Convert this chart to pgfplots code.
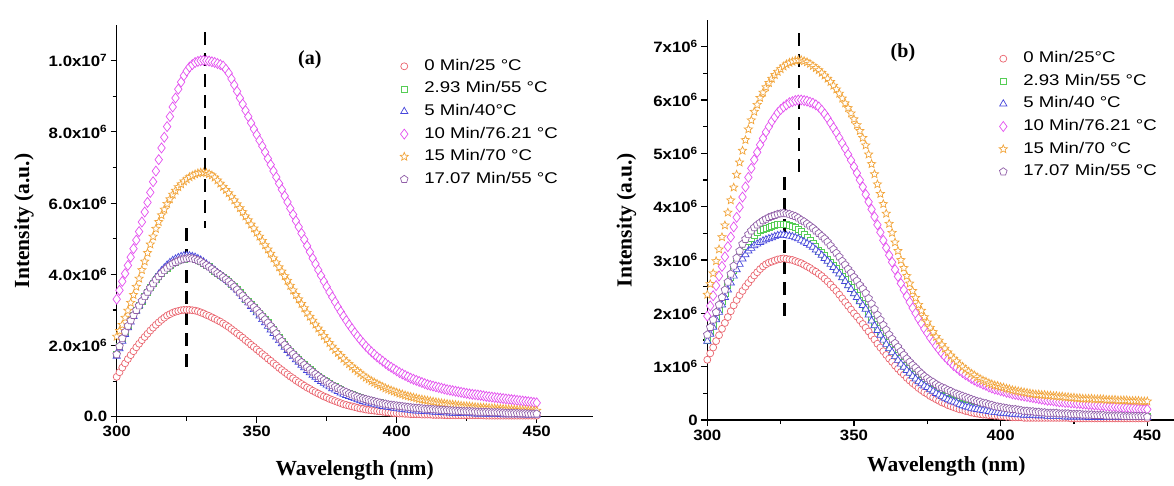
\documentclass[border=0pt]{standalone}
\usepackage{fontspec}
\setmainfont{Liberation Serif}
\newfontfamily\sanstick[FakeStretch=1.12]{Liberation Sans}
\newfontfamily\sanslegend[FakeStretch=1.2]{Liberation Sans}
\usepackage{pgfplots}
\usepackage{pgfplotstable}
\pgfplotsset{compat=1.18}

\definecolor{cRed}{RGB}{234,100,110}
\definecolor{cGreen}{RGB}{85,205,85}
\definecolor{cBlue}{RGB}{70,70,220}
\definecolor{cMag}{RGB}{228,80,240}
\definecolor{cOra}{RGB}{242,165,60}
\definecolor{cPur}{RGB}{145,95,168}

% five-pointed star, outlined and filled
\pgfdeclareplotmark{ostar}{%
  \pgfpathmoveto{\pgfpointpolar{90}{\pgfplotmarksize}}%
  \pgfpathlineto{\pgfpointpolar{126}{0.45\pgfplotmarksize}}%
  \pgfpathlineto{\pgfpointpolar{162}{\pgfplotmarksize}}%
  \pgfpathlineto{\pgfpointpolar{198}{0.45\pgfplotmarksize}}%
  \pgfpathlineto{\pgfpointpolar{234}{\pgfplotmarksize}}%
  \pgfpathlineto{\pgfpointpolar{270}{0.45\pgfplotmarksize}}%
  \pgfpathlineto{\pgfpointpolar{306}{\pgfplotmarksize}}%
  \pgfpathlineto{\pgfpointpolar{342}{0.45\pgfplotmarksize}}%
  \pgfpathlineto{\pgfpointpolar{18}{\pgfplotmarksize}}%
  \pgfpathlineto{\pgfpointpolar{54}{0.45\pgfplotmarksize}}%
  \pgfpathclose\pgfusepathqfillstroke}

% Panel (a): wavelength (nm), intensities in units of 1e6
% r = 0 min, b = 5 min, m = 10 min, o = 15 min, p = 17.07 min (2.93 min coincides with p)
\pgfplotstableread{
x r b m o p
300 1.12 1.70 3.30 2.25 1.75
301 1.25 1.91 3.55 2.41 1.98
302 1.38 2.12 3.80 2.58 2.20
303 1.50 2.31 4.02 2.78 2.38
304 1.62 2.50 4.25 2.98 2.55
305 1.73 2.66 4.48 3.20 2.70
306 1.84 2.82 4.72 3.42 2.85
307 1.95 2.97 4.96 3.65 2.99
308 2.05 3.12 5.20 3.88 3.12
309 2.15 3.26 5.47 4.12 3.25
310 2.24 3.40 5.75 4.36 3.38
311 2.33 3.53 6.02 4.60 3.50
312 2.42 3.66 6.30 4.84 3.62
313 2.50 3.78 6.60 5.06 3.74
314 2.58 3.90 6.90 5.28 3.85
315 2.65 4.00 7.22 5.47 3.94
316 2.72 4.10 7.55 5.66 4.03
317 2.78 4.18 7.85 5.82 4.11
318 2.84 4.26 8.15 5.98 4.18
319 2.88 4.33 8.43 6.11 4.24
320 2.92 4.39 8.70 6.24 4.30
321 2.95 4.43 8.95 6.35 4.34
322 2.97 4.47 9.20 6.45 4.38
323 2.99 4.50 9.40 6.53 4.41
324 3.00 4.52 9.58 6.61 4.43
325 3.00 4.53 9.71 6.67 4.44
326 3.00 4.52 9.82 6.73 4.45
327 2.99 4.50 9.89 6.77 4.44
328 2.98 4.48 9.95 6.81 4.42
329 2.96 4.44 9.98 6.84 4.39
330 2.93 4.40 10.00 6.86 4.36
331 2.90 4.35 10.01 6.86 4.31
332 2.86 4.29 10.00 6.85 4.26
333 2.83 4.23 9.99 6.82 4.21
334 2.79 4.17 9.97 6.78 4.15
335 2.75 4.11 9.95 6.72 4.09
336 2.71 4.04 9.92 6.64 4.03
337 2.67 3.98 9.89 6.55 3.98
338 2.62 3.92 9.85 6.46 3.92
339 2.57 3.86 9.76 6.37 3.86
340 2.52 3.79 9.65 6.28 3.80
341 2.46 3.72 9.49 6.18 3.73
342 2.40 3.64 9.32 6.08 3.65
343 2.34 3.56 9.14 5.97 3.57
344 2.28 3.47 8.95 5.86 3.48
345 2.22 3.38 8.78 5.75 3.40
346 2.15 3.29 8.60 5.63 3.31
347 2.09 3.20 8.43 5.52 3.23
348 2.02 3.10 8.25 5.40 3.15
349 1.96 3.01 8.08 5.29 3.08
350 1.89 2.92 7.92 5.17 3.00
351 1.83 2.83 7.76 5.06 2.91
352 1.76 2.73 7.60 4.94 2.82
353 1.70 2.64 7.43 4.82 2.73
354 1.63 2.54 7.25 4.70 2.64
355 1.57 2.44 7.08 4.58 2.55
356 1.50 2.34 6.90 4.45 2.45
357 1.44 2.24 6.73 4.33 2.34
358 1.37 2.14 6.55 4.20 2.22
359 1.31 2.05 6.38 4.08 2.12
360 1.25 1.95 6.20 3.95 2.02
361 1.19 1.86 6.03 3.82 1.93
362 1.13 1.77 5.85 3.68 1.84
363 1.08 1.69 5.68 3.55 1.76
364 1.02 1.60 5.50 3.42 1.68
365 0.97 1.53 5.33 3.30 1.60
366 0.92 1.45 5.15 3.17 1.53
367 0.87 1.38 4.98 3.05 1.46
368 0.82 1.30 4.80 2.92 1.39
369 0.78 1.24 4.63 2.81 1.32
370 0.73 1.17 4.45 2.70 1.26
371 0.69 1.11 4.29 2.59 1.20
372 0.65 1.05 4.12 2.48 1.14
373 0.61 0.99 3.96 2.38 1.08
374 0.57 0.94 3.80 2.27 1.03
375 0.54 0.89 3.65 2.17 0.98
376 0.50 0.84 3.50 2.07 0.93
377 0.47 0.79 3.36 1.97 0.88
378 0.44 0.75 3.22 1.88 0.84
379 0.41 0.71 3.08 1.79 0.80
380 0.38 0.67 2.95 1.71 0.76
381 0.35 0.63 2.82 1.63 0.72
382 0.33 0.60 2.70 1.55 0.69
383 0.31 0.57 2.58 1.48 0.65
384 0.29 0.54 2.47 1.41 0.62
385 0.27 0.51 2.36 1.34 0.59
386 0.25 0.48 2.26 1.28 0.56
387 0.23 0.45 2.16 1.22 0.53
388 0.22 0.43 2.07 1.16 0.51
389 0.20 0.41 1.98 1.10 0.49
390 0.19 0.39 1.90 1.05 0.47
391 0.18 0.37 1.82 1.00 0.45
392 0.17 0.35 1.75 0.96 0.43
393 0.16 0.33 1.68 0.92 0.41
394 0.15 0.31 1.62 0.88 0.39
395 0.14 0.29 1.56 0.84 0.37
396 0.13 0.28 1.50 0.80 0.36
397 0.12 0.27 1.44 0.77 0.34
398 0.11 0.26 1.39 0.74 0.33
399 0.10 0.24 1.34 0.71 0.32
400 0.10 0.23 1.29 0.68 0.31
401 0.09 0.22 1.24 0.65 0.30
402 0.09 0.21 1.20 0.63 0.29
403 0.08 0.20 1.16 0.60 0.28
404 0.08 0.19 1.12 0.58 0.27
405 0.07 0.18 1.08 0.56 0.26
406 0.07 0.17 1.05 0.54 0.25
407 0.07 0.165 1.02 0.52 0.245
408 0.07 0.16 0.99 0.50 0.24
409 0.06 0.155 0.96 0.485 0.23
410 0.06 0.15 0.93 0.47 0.22
411 0.06 0.145 0.90 0.455 0.215
412 0.06 0.14 0.88 0.44 0.21
413 0.05 0.135 0.86 0.425 0.205
414 0.05 0.13 0.84 0.41 0.20
415 0.05 0.125 0.82 0.395 0.195
416 0.05 0.12 0.80 0.38 0.19
417 0.045 0.115 0.78 0.37 0.185
418 0.04 0.11 0.76 0.36 0.18
419 0.04 0.105 0.745 0.35 0.175
420 0.04 0.10 0.73 0.34 0.17
421 0.04 0.10 0.715 0.33 0.165
422 0.04 0.10 0.70 0.32 0.16
423 0.04 0.095 0.685 0.31 0.155
424 0.04 0.09 0.67 0.30 0.15
425 0.04 0.09 0.655 0.295 0.15
426 0.04 0.09 0.64 0.29 0.15
427 0.04 0.085 0.63 0.28 0.145
428 0.04 0.08 0.62 0.27 0.14
429 0.04 0.08 0.61 0.265 0.135
430 0.04 0.08 0.60 0.26 0.13
431 0.035 0.075 0.585 0.255 0.13
432 0.03 0.07 0.57 0.25 0.13
433 0.03 0.07 0.56 0.245 0.125
434 0.03 0.07 0.55 0.24 0.12
435 0.03 0.07 0.54 0.235 0.12
436 0.03 0.07 0.53 0.23 0.12
437 0.03 0.065 0.52 0.225 0.115
438 0.03 0.06 0.51 0.22 0.11
439 0.03 0.06 0.50 0.215 0.105
440 0.03 0.06 0.49 0.21 0.10
441 0.03 0.06 0.48 0.205 0.10
442 0.03 0.06 0.47 0.20 0.10
443 0.03 0.06 0.46 0.195 0.095
444 0.03 0.06 0.45 0.19 0.09
445 0.03 0.055 0.44 0.185 0.09
446 0.03 0.05 0.43 0.18 0.09
447 0.03 0.05 0.42 0.175 0.085
448 0.03 0.05 0.41 0.17 0.08
449 0.03 0.05 0.40 0.17 0.08
450 0.03 0.05 0.39 0.17 0.08
}\dataA

% Panel (b)
\pgfplotstableread{
x r g b m o p
300 1.13 1.50 1.48 1.95 2.35 1.60
301 1.25 1.64 1.61 2.14 2.55 1.74
302 1.36 1.78 1.74 2.33 2.75 1.88
303 1.48 1.93 1.88 2.52 2.98 2.02
304 1.59 2.08 2.02 2.70 3.20 2.16
305 1.71 2.23 2.16 2.88 3.43 2.30
306 1.82 2.38 2.30 3.06 3.65 2.44
307 1.93 2.53 2.44 3.25 3.89 2.59
308 2.04 2.67 2.57 3.43 4.12 2.74
309 2.15 2.81 2.70 3.62 4.36 2.89
310 2.25 2.94 2.82 3.80 4.60 3.04
311 2.34 3.06 2.92 3.99 4.83 3.17
312 2.42 3.17 3.02 4.18 5.05 3.30
313 2.50 3.26 3.10 4.37 5.25 3.39
314 2.57 3.35 3.17 4.55 5.45 3.48
315 2.64 3.41 3.22 4.72 5.62 3.55
316 2.71 3.47 3.27 4.88 5.78 3.61
317 2.77 3.51 3.30 5.02 5.91 3.66
318 2.83 3.55 3.33 5.16 6.04 3.70
319 2.88 3.58 3.36 5.28 6.14 3.74
320 2.92 3.60 3.38 5.40 6.24 3.77
321 2.95 3.62 3.40 5.50 6.32 3.80
322 2.97 3.63 3.42 5.60 6.40 3.82
323 2.99 3.65 3.44 5.68 6.47 3.84
324 3.01 3.66 3.46 5.76 6.53 3.86
325 3.02 3.67 3.47 5.82 6.58 3.87
326 3.03 3.67 3.47 5.87 6.63 3.88
327 3.02 3.66 3.46 5.91 6.67 3.87
328 3.01 3.65 3.45 5.95 6.70 3.86
329 3.00 3.63 3.44 5.97 6.72 3.84
330 2.98 3.61 3.42 5.99 6.74 3.82
331 2.96 3.57 3.40 6.00 6.75 3.79
332 2.94 3.53 3.37 6.00 6.75 3.75
333 2.91 3.48 3.34 5.99 6.73 3.72
334 2.88 3.42 3.31 5.98 6.71 3.68
335 2.85 3.37 3.28 5.96 6.68 3.64
336 2.81 3.31 3.24 5.94 6.64 3.60
337 2.78 3.25 3.19 5.91 6.60 3.55
338 2.74 3.19 3.14 5.87 6.56 3.50
339 2.70 3.14 3.09 5.81 6.51 3.45
340 2.65 3.08 3.03 5.74 6.46 3.40
341 2.60 3.02 2.98 5.66 6.40 3.34
342 2.54 2.96 2.92 5.57 6.34 3.27
343 2.48 2.90 2.86 5.48 6.27 3.20
344 2.42 2.84 2.80 5.39 6.20 3.13
345 2.35 2.77 2.74 5.29 6.12 3.06
346 2.28 2.70 2.67 5.19 6.03 2.98
347 2.21 2.63 2.60 5.09 5.94 2.91
348 2.14 2.55 2.52 4.98 5.85 2.83
349 2.07 2.48 2.45 4.87 5.75 2.76
350 2.00 2.40 2.37 4.75 5.64 2.68
351 1.94 2.33 2.30 4.63 5.53 2.61
352 1.87 2.25 2.22 4.50 5.42 2.53
353 1.80 2.18 2.15 4.37 5.29 2.46
354 1.73 2.11 2.08 4.23 5.15 2.38
355 1.66 2.00 1.97 4.09 4.98 2.28
356 1.58 1.89 1.86 3.95 4.80 2.18
357 1.51 1.80 1.77 3.81 4.61 2.08
358 1.43 1.71 1.68 3.66 4.42 1.97
359 1.36 1.62 1.59 3.52 4.24 1.88
360 1.29 1.53 1.50 3.37 4.05 1.78
361 1.22 1.45 1.42 3.23 3.87 1.69
362 1.15 1.37 1.34 3.09 3.68 1.60
363 1.09 1.30 1.27 2.96 3.51 1.52
364 1.02 1.22 1.19 2.82 3.33 1.44
365 0.96 1.15 1.12 2.69 3.17 1.37
366 0.90 1.08 1.05 2.56 3.00 1.29
367 0.85 1.02 0.99 2.44 2.85 1.22
368 0.79 0.96 0.93 2.32 2.70 1.15
369 0.74 0.91 0.88 2.21 2.56 1.09
370 0.69 0.85 0.82 2.10 2.42 1.03
371 0.65 0.80 0.77 2.00 2.29 0.98
372 0.60 0.75 0.72 1.90 2.16 0.92
373 0.56 0.71 0.68 1.81 2.05 0.87
374 0.52 0.67 0.64 1.71 1.93 0.82
375 0.49 0.64 0.61 1.63 1.83 0.78
376 0.45 0.60 0.57 1.54 1.73 0.74
377 0.42 0.57 0.54 1.47 1.65 0.71
378 0.39 0.53 0.50 1.39 1.56 0.67
379 0.36 0.50 0.47 1.32 1.49 0.64
380 0.33 0.47 0.44 1.25 1.41 0.61
381 0.31 0.44 0.41 1.19 1.34 0.59
382 0.28 0.41 0.38 1.13 1.27 0.56
383 0.26 0.39 0.36 1.08 1.21 0.54
384 0.24 0.37 0.34 1.02 1.15 0.51
385 0.22 0.35 0.32 0.98 1.10 0.49
386 0.20 0.32 0.29 0.93 1.04 0.47
387 0.19 0.30 0.27 0.89 1.00 0.45
388 0.17 0.28 0.25 0.85 0.95 0.43
389 0.16 0.27 0.24 0.82 0.91 0.41
390 0.14 0.25 0.22 0.78 0.87 0.39
391 0.13 0.24 0.21 0.75 0.84 0.37
392 0.12 0.23 0.20 0.72 0.80 0.35
393 0.11 0.22 0.19 0.70 0.77 0.34
394 0.10 0.21 0.18 0.67 0.74 0.32
395 0.10 0.20 0.17 0.65 0.72 0.31
396 0.09 0.19 0.16 0.62 0.69 0.29
397 0.09 0.18 0.15 0.60 0.67 0.28
398 0.08 0.17 0.14 0.58 0.65 0.26
399 0.08 0.17 0.14 0.57 0.64 0.25
400 0.07 0.16 0.13 0.55 0.62 0.24
401 0.07 0.16 0.13 0.54 0.61 0.23
402 0.06 0.15 0.12 0.52 0.59 0.22
403 0.06 0.15 0.12 0.51 0.58 0.21
404 0.05 0.14 0.11 0.49 0.56 0.20
405 0.05 0.14 0.11 0.48 0.55 0.20
406 0.05 0.13 0.10 0.47 0.54 0.19
407 0.05 0.13 0.10 0.46 0.53 0.18
408 0.04 0.12 0.09 0.45 0.52 0.17
409 0.04 0.12 0.09 0.44 0.51 0.17
410 0.04 0.11 0.09 0.43 0.50 0.16
411 0.04 0.11 0.09 0.42 0.49 0.16
412 0.04 0.11 0.08 0.41 0.48 0.15
413 0.04 0.11 0.08 0.40 0.48 0.15
414 0.04 0.10 0.08 0.39 0.47 0.14
415 0.04 0.10 0.08 0.38 0.47 0.14
416 0.04 0.10 0.07 0.37 0.46 0.13
417 0.04 0.10 0.07 0.37 0.46 0.13
418 0.04 0.09 0.07 0.36 0.45 0.13
419 0.04 0.09 0.07 0.35 0.45 0.13
420 0.04 0.09 0.07 0.34 0.44 0.12
421 0.04 0.09 0.07 0.34 0.44 0.12
422 0.04 0.09 0.06 0.33 0.43 0.12
423 0.04 0.09 0.06 0.33 0.43 0.12
424 0.03 0.08 0.06 0.32 0.42 0.11
425 0.03 0.08 0.06 0.32 0.42 0.11
426 0.03 0.08 0.06 0.31 0.41 0.11
427 0.03 0.08 0.06 0.31 0.41 0.11
428 0.03 0.08 0.06 0.30 0.40 0.10
429 0.03 0.08 0.06 0.30 0.40 0.10
430 0.03 0.07 0.05 0.29 0.40 0.10
431 0.03 0.07 0.05 0.29 0.40 0.10
432 0.03 0.07 0.05 0.28 0.39 0.09
433 0.03 0.07 0.05 0.28 0.39 0.09
434 0.03 0.07 0.05 0.27 0.39 0.09
435 0.03 0.07 0.05 0.27 0.39 0.09
436 0.03 0.07 0.05 0.26 0.38 0.08
437 0.03 0.07 0.05 0.26 0.38 0.08
438 0.03 0.06 0.05 0.25 0.38 0.08
439 0.03 0.06 0.05 0.25 0.38 0.08
440 0.03 0.06 0.05 0.24 0.37 0.08
441 0.03 0.06 0.05 0.24 0.37 0.08
442 0.03 0.06 0.05 0.23 0.37 0.07
443 0.03 0.06 0.05 0.23 0.37 0.07
444 0.03 0.06 0.05 0.22 0.36 0.07
445 0.03 0.06 0.05 0.22 0.36 0.07
446 0.03 0.06 0.05 0.21 0.36 0.07
447 0.03 0.06 0.05 0.21 0.36 0.07
448 0.03 0.06 0.05 0.20 0.35 0.07
449 0.03 0.06 0.05 0.20 0.35 0.07
450 0.03 0.06 0.05 0.20 0.35 0.06
}\dataB

\pgfplotsset{
  spectrum/.style={
    scale only axis,
    axis x line*=bottom, axis y line*=left,
    axis line style={line width=1.3pt, black},
    tick align=outside,
    major tick length=6pt, minor tick length=4pt,
    every tick/.style={line width=1.2pt, black},
    tick label style={font=\sanstick\bfseries\fontsize{15}{17}\selectfont, black},
    label style={font=\bfseries\fontsize{21.5}{24}\selectfont},
    xmin=300,
    xtick={300,350,400,450}, xticklabels={300,350,400,450},
    minor xtick={325,375,425},
    ymin=0,
    legend cell align=left,
    legend style={draw=none, fill=none, anchor=north west, inner sep=0pt,
      font=\sanslegend\fontsize{15.5}{18}\selectfont,
      row sep=5.6pt,
      nodes={inner sep=1pt, text height=11.5pt, text depth=3.5pt}},
    clip=false,
  },
  % open-looking markers: white interior, coloured outline
  mk/.style={only marks,
    legend image code/.code={%
      \path[draw=none, fill=none] (0pt,0pt) (26pt,0pt);
      \draw[mark repeat=2,mark phase=2,##1] plot coordinates {(0pt,0pt) (7pt,0pt) (14pt,0pt)};}},
  sR/.style={mk, mark=*, mark size=3.5pt, mark options={draw=cRed, fill=white, line width=0.7pt}},
  sG/.style={mk, mark=square*, mark size=3pt, mark options={draw=cGreen, fill=white, line width=0.7pt}},
  sB/.style={mk, mark=triangle*, mark size=4.2pt, mark options={draw=cBlue, fill=white, line width=0.7pt}},
  sM/.style={mk, mark=diamond*, mark size=5pt, mark options={draw=cMag, fill=white, line width=0.7pt}},
  sO/.style={mk, mark=ostar, mark size=4.3pt, mark options={draw=cOra, fill=white, line width=0.7pt}},
  sP/.style={mk, mark=pentagon*, mark size=4pt, mark options={draw=cPur, fill=white, line width=0.7pt}},
  peakline/.style={black, line width=2.6pt, dash pattern=on 13pt off 8pt, forget plot},
}

\begin{document}
\begin{tikzpicture}
\useasboundingbox (0pt,0pt) rectangle (1174pt,485pt);

% ---- (a) ----
\begin{axis}[spectrum,
  at={(116.7pt,68.3pt)}, anchor=south west,
  width=476pt, height=391.6pt,
  xmax=470, ymax=11,
  ytick={0,2,4,6,8,10},
  yticklabels={0.0, 2.0x10\textsuperscript{6}, 4.0x10\textsuperscript{6}, 6.0x10\textsuperscript{6}, 8.0x10\textsuperscript{6}, 1.0x10\textsuperscript{7}},
  minor ytick={1,3,5,7,9},
  xlabel={Wavelength (nm)}, ylabel={Intensity (a.u.)},
  xlabel style={at={(axis description cs:0.5,-0.137)}, anchor=center},
  ylabel style={at={(axis description cs:-0.195,0.5)}, anchor=center},
  legend style={at={(axis description cs:0.589,0.917)}},
]
% the 2.93 min spectrum lies under the 5 and 17.07 min spectra
\addplot[sG, forget plot] table[x=x,y=p] {\dataA};
\addplot[sR] table[x=x,y=r] {\dataA};
\addlegendimage{sG}
\addplot[sB] table[x=x,y=b] {\dataA};
\addplot[sM] table[x=x,y=m] {\dataA};
\addplot[sO] table[x=x,y=o] {\dataA};
\addplot[sP] table[x=x,y=p] {\dataA};
\legend{0 Min/25 °C, 2.93 Min/55 °C, 5 Min/40°C, 10 Min/76.21 °C, 15 Min/70 °C, 17.07 Min/55 °C}
\addplot[peakline] coordinates {(331.5,10.8) (331.5,5.3)};
\addplot[peakline] coordinates {(325,5.3) (325,1.3)};
\node[font=\bfseries\fontsize{20}{22}\selectfont] at (axis cs:369,10.02) {(a)};
\end{axis}

% ---- (b) ----
\begin{axis}[spectrum,
  at={(707.3pt,65pt)}, anchor=south west,
  width=478.1pt, height=400pt,
  xmax=463, ymax=7.5,
  ytick={0,1,2,3,4,5,6,7},
  yticklabels={0, 1x10\textsuperscript{6}, 2x10\textsuperscript{6}, 3x10\textsuperscript{6}, 4x10\textsuperscript{6}, 5x10\textsuperscript{6}, 6x10\textsuperscript{6}, 7x10\textsuperscript{6}},
  minor ytick={0.5,1.5,2.5,3.5,4.5,5.5,6.5},
  xlabel={Wavelength (nm)}, ylabel={Intensity (a.u.)},
  xlabel style={at={(axis description cs:0.5,-0.115)}, anchor=center},
  ylabel style={at={(axis description cs:-0.169,0.5)}, anchor=center},
  legend style={at={(axis description cs:0.604,0.925)}},
]
\addplot[sR] table[x=x,y=r] {\dataB};
\addplot[sG] table[x=x,y=g] {\dataB};
\addplot[sB] table[x=x,y=b] {\dataB};
\addplot[sM] table[x=x,y=m] {\dataB};
\addplot[sO] table[x=x,y=o] {\dataB};
\addplot[sP] table[x=x,y=p] {\dataB};
\legend{0 Min/25°C, 2.93 Min/55 °C, 5 Min/40 °C, 10 Min/76.21 °C, 15 Min/70 °C, 17.07 Min/55 °C}
\addplot[peakline] coordinates {(331.3,7.25) (331.3,4.5)};
\addplot[peakline] coordinates {(326.3,4.55) (326.3,1.8)};
\node[font=\bfseries\fontsize{20}{22}\selectfont] at (axis cs:366.7,6.88) {(b)};
\end{axis}
\end{tikzpicture}
\end{document}
